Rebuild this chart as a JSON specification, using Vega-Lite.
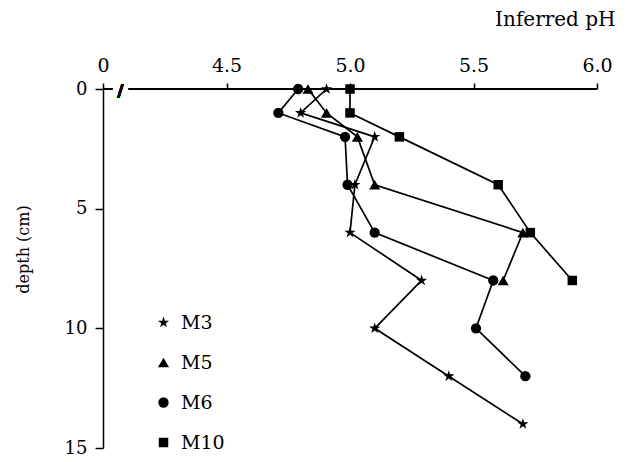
{
  "$schema": "https://vega.github.io/schema/vega-lite/v6.json",
  "width": 494,
  "height": 359,
  "autosize": "none",
  "padding": {"left": 103, "top": 89, "right": 32, "bottom": 14},
  "background": "white",
  "config": {
    "font": "DejaVu Serif",
    "view": {"stroke": null},
    "axis": {"grid": false, "domainColor": "black", "tickColor": "black", "labelColor": "black", "titleColor": "black", "domainWidth": 1.5, "tickWidth": 1.5, "labelFont": "DejaVu Serif", "titleFont": "DejaVu Serif", "titleFontWeight": "normal"}
  },
  "data": {
    "values": [
      {"site": "M3", "depth": 0, "pH": 4.905},
      {"site": "M3", "depth": 1, "pH": 4.80},
      {"site": "M3", "depth": 2, "pH": 5.10},
      {"site": "M3", "depth": 4, "pH": 5.02},
      {"site": "M3", "depth": 6, "pH": 5.00},
      {"site": "M3", "depth": 8, "pH": 5.29},
      {"site": "M3", "depth": 10, "pH": 5.10},
      {"site": "M3", "depth": 12, "pH": 5.40},
      {"site": "M3", "depth": 14, "pH": 5.70},
      {"site": "M5", "depth": 0, "pH": 4.83},
      {"site": "M5", "depth": 1, "pH": 4.905},
      {"site": "M5", "depth": 2, "pH": 5.03},
      {"site": "M5", "depth": 4, "pH": 5.10},
      {"site": "M5", "depth": 6, "pH": 5.70},
      {"site": "M5", "depth": 8, "pH": 5.62},
      {"site": "M6", "depth": 0, "pH": 4.79},
      {"site": "M6", "depth": 1, "pH": 4.71},
      {"site": "M6", "depth": 2, "pH": 4.98},
      {"site": "M6", "depth": 4, "pH": 4.99},
      {"site": "M6", "depth": 6, "pH": 5.10},
      {"site": "M6", "depth": 8, "pH": 5.58},
      {"site": "M6", "depth": 10, "pH": 5.51},
      {"site": "M6", "depth": 12, "pH": 5.71},
      {"site": "M10", "depth": 0, "pH": 5.00},
      {"site": "M10", "depth": 1, "pH": 5.00},
      {"site": "M10", "depth": 2, "pH": 5.20},
      {"site": "M10", "depth": 4, "pH": 5.60},
      {"site": "M10", "depth": 6, "pH": 5.73},
      {"site": "M10", "depth": 8, "pH": 5.90}
    ]
  },
  "encoding": {
    "x": {
      "field": "pH", "type": "quantitative",
      "scale": {"domain": [4, 6], "nice": false, "zero": false},
      "axis": {
        "orient": "top", "values": [4, 4.5, 5, 5.5, 6],
        "labelExpr": "datum.value == 4 ? '0' : format(datum.value, '.1f')",
        "domain": false, "tickSize": 6, "labelPadding": 12, "labelBaseline": "alphabetic",
        "labelFontSize": 19, "labelFlush": false,
        "title": "Inferred pH", "titleFontSize": 20, "titleX": 512, "titleY": -64,
        "titleAlign": "right", "titleBaseline": "alphabetic", "titleAnchor": null
      }
    },
    "y": {
      "field": "depth", "type": "quantitative",
      "scale": {"domain": [0, 15], "nice": false, "reverse": true},
      "axis": {
        "values": [0, 5, 10, 15], "tickSize": 8, "labelPadding": 8, "labelFontSize": 18,
        "title": "depth (cm)", "titleFontSize": 16, "titleX": -80, "titleY": 160,
        "titleAlign": "center", "titleBaseline": "middle", "titleAngle": -90
      }
    }
  },
  "layer": [
    {
      "mark": {"type": "rule", "color": "black", "strokeWidth": 1.5},
      "encoding": {"x": {"datum": 4.105}, "x2": {"datum": 6.0}, "y": {"datum": 0}}
    },
    {
      "mark": {"type": "rule", "color": "black", "strokeWidth": 1.5},
      "encoding": {"x": {"datum": 4.0}, "x2": {"datum": 4.04}, "y": {"datum": 0}}
    },
    {
      "mark": {"type": "text", "text": "/", "fontSize": 17, "fontWeight": "bold", "baseline": "middle", "align": "center", "color": "black"},
      "encoding": {"x": {"datum": 4.07}, "y": {"datum": 0.1}}
    },
    {
      "mark": {"type": "line", "color": "black", "strokeWidth": 1.7},
      "encoding": {
        "detail": {"field": "site"},
        "order": {"field": "depth", "type": "quantitative"}
      }
    },
    {
      "mark": {"type": "point", "filled": true, "color": "black", "opacity": 1},
      "encoding": {
        "shape": {
          "field": "site", "type": "nominal",
          "scale": {"domain": ["M3", "M5", "M6", "M10"], "range": ["M0,-1L0.225,-0.309L0.951,-0.309L0.363,0.118L0.588,0.809L0,0.382L-0.588,0.809L-0.363,0.118L-0.951,-0.309L-0.225,-0.309Z", "triangle-up", "circle", "square"]},
          "legend": {
            "title": null, "orient": "none", "legendX": 51, "legendY": 224, "padding": 0,
            "labelFontSize": 19, "labelFont": "DejaVu Serif", "labelColor": "black",
            "labelOffset": 8, "rowPadding": 20, "symbolFillColor": "black", "symbolStrokeColor": "black", "symbolOpacity": 1
          }
        },
        "size": {
          "field": "site", "type": "nominal",
          "scale": {"domain": ["M3", "M5", "M6", "M10"], "range": [140, 90, 65, 75]}
        }
      }
    }
  ]
}
